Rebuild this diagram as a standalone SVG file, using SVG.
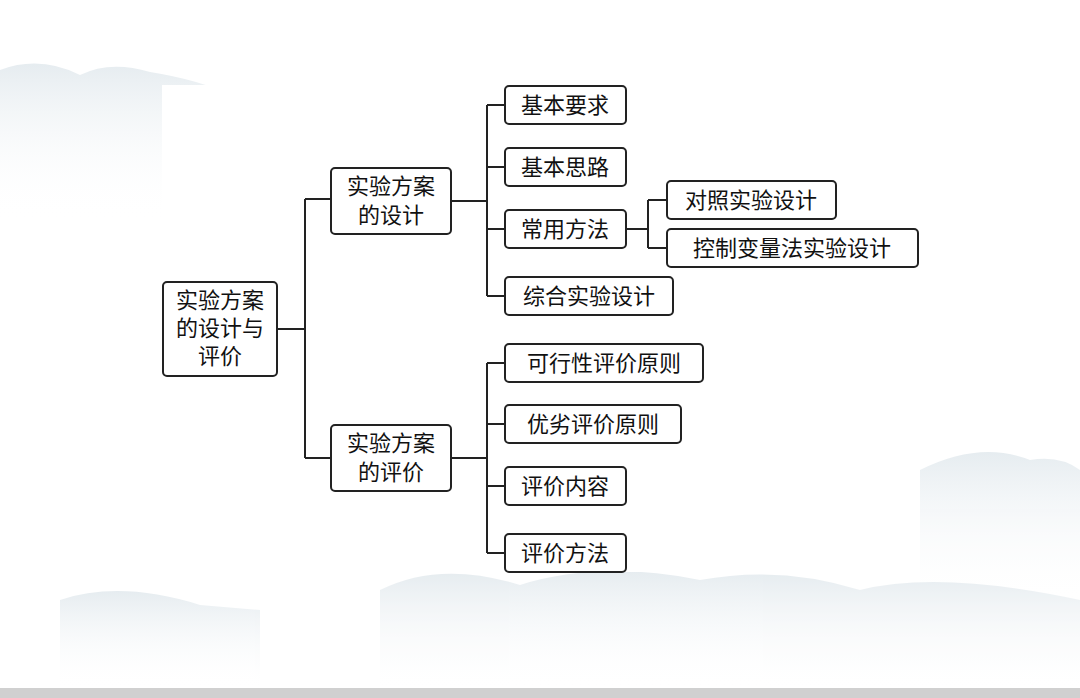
<svg xmlns="http://www.w3.org/2000/svg" width="1080" height="698" viewBox="0 0 1080 698">
<defs>
<style>
.n rect{fill:#fff;stroke:#222;stroke-width:2}
.n text{font-family:"Noto Sans CJK SC","Liberation Sans",sans-serif;font-size:22px;fill:#111;text-anchor:middle}
#connectors path{fill:none;stroke:#222;stroke-width:2}
</style>
<linearGradient id="fade" x1="0" y1="0" x2="0" y2="1"><stop offset="0" stop-color="#d7e1e7" stop-opacity="0.9"/><stop offset="1" stop-color="#fff" stop-opacity="0"/></linearGradient>
</defs>
<rect width="1080" height="698" fill="#fff"/>
<g opacity="0.7">
<path fill="url(#fade)" d="M0 70 Q40 55 80 75 Q110 60 150 72 Q200 80 230 95 L230 220 L0 220Z"/>
<path fill="url(#fade)" d="M920 470 Q980 440 1030 460 Q1060 455 1080 470 L1080 600 L920 600Z"/>
<path fill="url(#fade)" d="M380 590 Q440 560 520 585 Q600 560 700 580 Q780 565 860 590 Q940 570 1080 600 L1080 690 L380 690Z"/>
<path fill="url(#fade)" d="M60 600 Q120 580 200 605 L260 610 L260 690 L60 690Z"/>
</g>
<rect x="162" y="85" width="756" height="487" fill="#fff"/>
<rect x="0" y="688" width="1080" height="10" fill="#d0d0d0"/>
<g id="connectors">
<path d="M277 329H305M305 199V458M305 199H331M305 458H331"/>
<path d="M451 201H487M487 105V296M487 105H505M487 167H505M487 229H505M487 296H505"/>
<path d="M451 458H487M487 363V553M487 363H505M487 424H505M487 486H505M487 553H505"/>
<path d="M626 229H648M648 200V248M648 200H667M648 248H667"/>
</g>
<g id="root" class="n"><rect x="163" y="282" width="114" height="94" rx="4"/><text x="220" y="308">实验方案</text><text x="220" y="336">的设计与</text><text x="220" y="364">评价</text></g>
<g id="design" class="n"><rect x="331" y="168" width="120" height="66" rx="4"/><text x="391" y="194">实验方案</text><text x="391" y="223">的设计</text></g>
<g id="eval" class="n"><rect x="331" y="425" width="120" height="66" rx="4"/><text x="391" y="451">实验方案</text><text x="391" y="480">的评价</text></g>
<g id="n1" class="n"><rect x="505" y="86" width="121" height="38" rx="4"/><text x="565" y="113">基本要求</text></g>
<g id="n2" class="n"><rect x="505" y="148" width="121" height="38" rx="4"/><text x="565" y="175">基本思路</text></g>
<g id="n3" class="n"><rect x="505" y="210" width="121" height="38" rx="4"/><text x="565" y="237">常用方法</text></g>
<g id="n4" class="n"><rect x="505" y="277" width="168" height="38" rx="4"/><text x="589" y="304">综合实验设计</text></g>
<g id="n5" class="n"><rect x="667" y="181" width="169" height="38" rx="4"/><text x="751" y="208">对照实验设计</text></g>
<g id="n6" class="n"><rect x="667" y="229" width="251" height="38" rx="4"/><text x="792" y="256">控制变量法实验设计</text></g>
<g id="n7" class="n"><rect x="505" y="344" width="198" height="38" rx="4"/><text x="604" y="371">可行性评价原则</text></g>
<g id="n8" class="n"><rect x="505" y="405" width="176" height="38" rx="4"/><text x="593" y="432">优劣评价原则</text></g>
<g id="n9" class="n"><rect x="505" y="467" width="121" height="38" rx="4"/><text x="565" y="494">评价内容</text></g>
<g id="n10" class="n"><rect x="505" y="534" width="121" height="38" rx="4"/><text x="565" y="561">评价方法</text></g>
</svg>
